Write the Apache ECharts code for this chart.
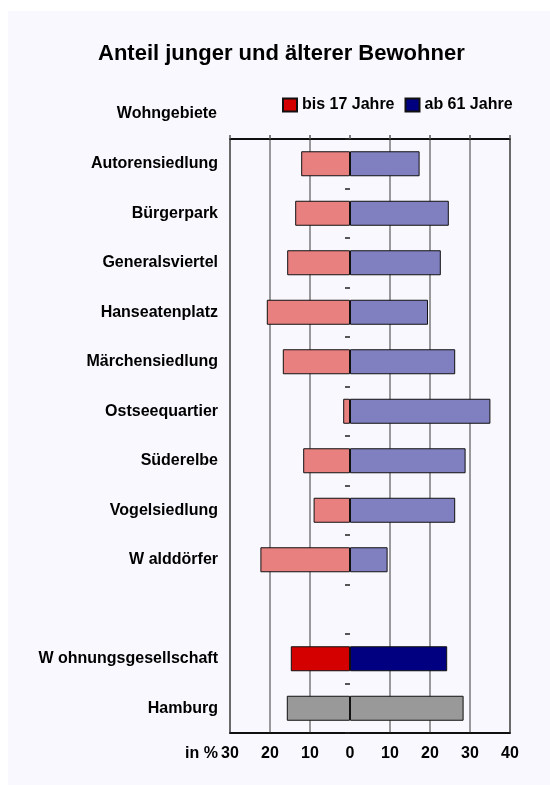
<!DOCTYPE html>
<html>
<head>
<meta charset="utf-8">
<script src="https://cdn.jsdelivr.net/npm/echarts@6/dist/echarts.min.js"></script>
<style>
html,body{margin:0;padding:0;background:#fff;}
#chart{width:550px;height:785px;}
</style>
</head>
<body>
<div id="chart"></div>
<script>
// ---- data ----
const categories = ['Autorensiedlung','Bürgerpark','Generalsviertel','Hanseatenplatz','Märchensiedlung','Ostseequartier','Süderelbe','Vogelsiedlung','W alddörfer','','W ohnungsgesellschaft','Hamburg'];
const youngShare = [12.2, 13.7, 15.7, 20.8, 16.8, 1.7, 11.7, 9.1, 22.4, null, 14.8, 15.8]; // bis 17 Jahre (%)
const oldShare   = [17.4, 24.7, 22.7, 19.5, 26.3, 35.1, 28.9, 26.3, 9.4, null, 24.3, 28.4]; // ab 61 Jahre (%)
const seriesNames = ['bis 17 Jahre', 'ab 61 Jahre'];
const xTicks = [-30, -20, -10, 0, 10, 20, 30, 40];

const FONT = 'Liberation Sans, Arial, sans-serif';
const lightRed = '#E98080', lightBlue = '#8080C0', gray = '#999999';
const darkRed = '#D40000', navy = '#000080';

function itemColor(i, light, dark) {
  if (categories[i] === 'Hamburg') return gray;
  if (categories[i].indexOf('ohnungsgesellschaft') >= 0) return dark;
  return light;
}

const youngData = youngShare.map((v, i) => v == null ? null : { value: -v, itemStyle: { color: itemColor(i, lightRed, darkRed) } });
const oldData = oldShare.map((v, i) => v == null ? null : { value: v, itemStyle: { color: itemColor(i, lightBlue, navy) } });

const chart = echarts.init(document.getElementById('chart'), null, { renderer: 'canvas' });
const gridColors = xTicks.map(t => t === 0 ? 'rgba(0,0,0,0)' : '#7a7a7a');

chart.setOption({
  animation: false,
  backgroundColor: '#ffffff',
  textStyle: { fontFamily: FONT },
  graphic: [
    { type: 'rect', z: -10, silent: true, shape: { x: 8, y: 11, width: 542, height: 774 }, style: { fill: '#F8F8FE' } },
    { type: 'text', x: 217, y: 114, silent: true, style: { text: 'Wohngebiete', font: 'bold 16px ' + FONT, fill: '#000', align: 'right', verticalAlign: 'middle' } },
    { type: 'text', x: 218, y: 754, silent: true, style: { text: 'in %', font: 'bold 16px ' + FONT, fill: '#000', align: 'right', verticalAlign: 'middle' } }
  ],
  title: {
    text: 'Anteil junger und älterer Bewohner',
    left: 98, top: 43, padding: 0,
    textStyle: { fontFamily: FONT, fontSize: 22, fontWeight: 'bold', color: '#000' }
  },
  legend: {
    data: seriesNames,
    left: 282, top: 97, padding: 0,
    icon: 'rect', itemWidth: 14, itemHeight: 13, itemGap: 10,
    textStyle: { fontFamily: FONT, fontSize: 16, fontWeight: 'bold', color: '#000' }
  },
  grid: {
    left: 230, right: 40, top: 139, bottom: 52,
    show: true, borderColor: '#000', borderWidth: 1.5, backgroundColor: 'transparent'
  },
  xAxis: [
    {
      type: 'value', min: -30, max: 40, interval: 10, position: 'bottom',
      axisLine: { show: true, onZero: false, lineStyle: { color: '#000', width: 1.5 } },
      axisTick: { show: false },
      splitLine: { show: true, lineStyle: { color: gridColors, width: 1.5 } },
      axisLabel: { margin: 13, fontFamily: FONT, fontSize: 16, fontWeight: 'bold', color: '#000', formatter: v => String(Math.abs(v)) }
    },
    {
      type: 'value', min: -30, max: 40, interval: 10, position: 'top',
      axisLine: { show: true, onZero: false, lineStyle: { color: '#000', width: 1.5 } },
      axisTick: { show: true, length: 4, lineStyle: { color: '#555', width: 1.5 } },
      splitLine: { show: false },
      axisLabel: { show: false }
    }
  ],
  yAxis: [
    {
      type: 'category', data: categories, inverse: true, position: 'left',
      axisLine: { show: false, onZero: false },
      axisTick: { show: false },
      axisLabel: { margin: 12, fontFamily: FONT, fontSize: 16, fontWeight: 'bold', color: '#000' }
    },
    {
      type: 'category', data: categories, inverse: true, position: 'left',
      axisLine: { show: false, onZero: true },
      axisTick: { show: true, length: 5, lineStyle: { color: '#222', width: 1.5 } },
      axisLabel: { show: false },
      splitLine: { show: false }
    }
  ],
  series: [
    {
      name: seriesNames[0], type: 'bar', stack: 'share', xAxisIndex: 0, yAxisIndex: 0,
      barWidth: 25, data: youngData,
      itemStyle: { color: darkRed, borderColor: '#111', borderWidth: 1 }
    },
    {
      name: seriesNames[1], type: 'bar', stack: 'share', xAxisIndex: 0, yAxisIndex: 0,
      barWidth: 25, data: oldData,
      itemStyle: { color: navy, borderColor: '#111', borderWidth: 1 }
    }
  ]
});
</script>
</body>
</html>
